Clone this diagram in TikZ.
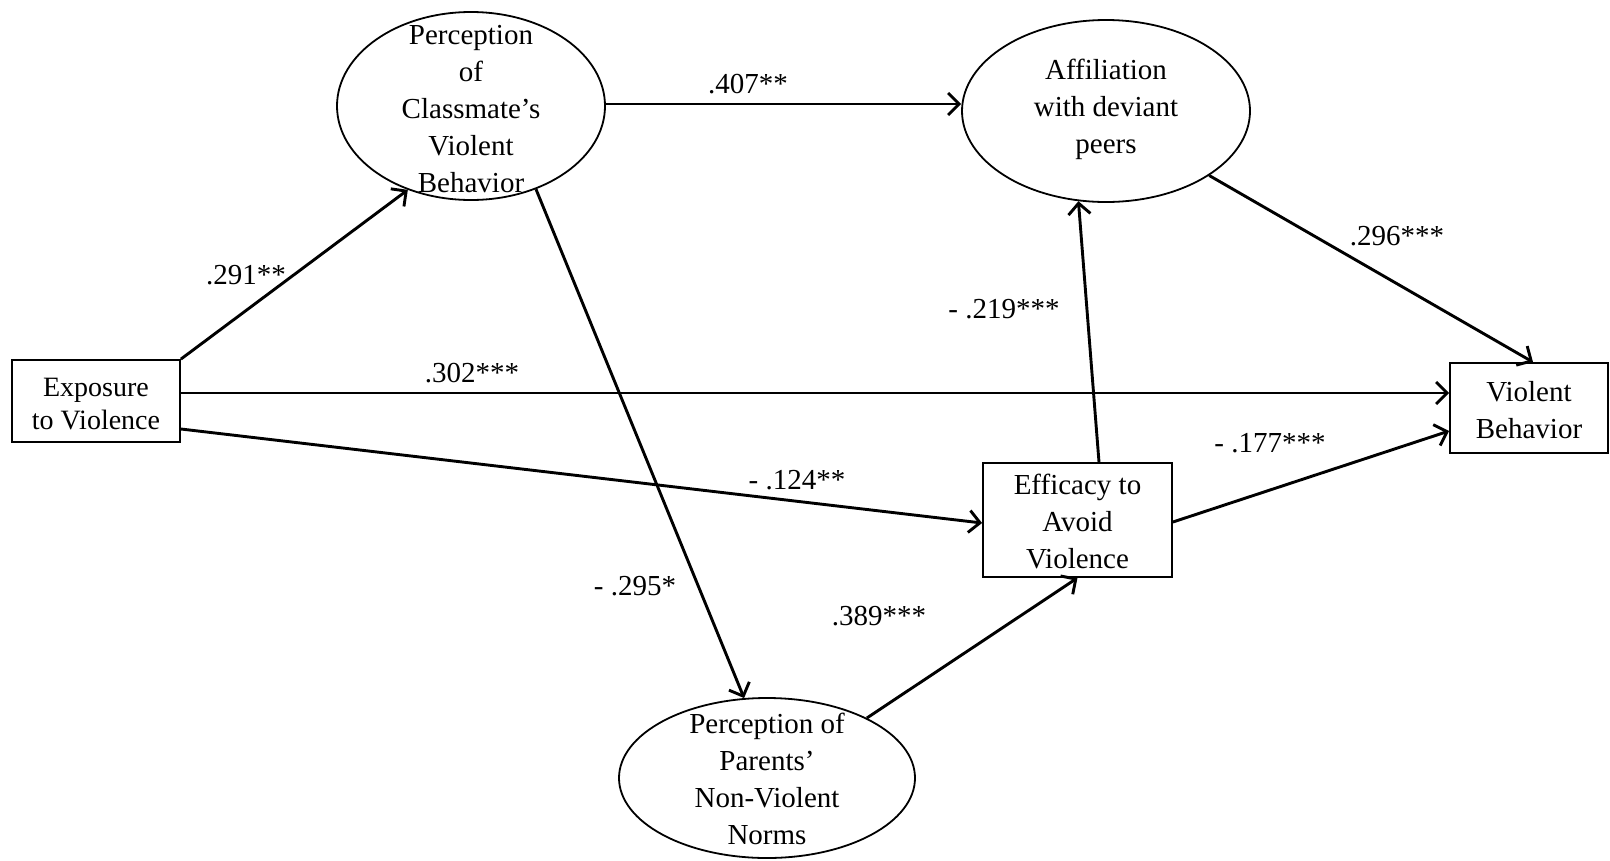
\documentclass[tikz,border=0pt]{standalone}
\usepackage{fontspec}
\setmainfont{Liberation Serif}
\usetikzlibrary{shapes.geometric,arrows.meta}
\begin{document}
\begin{tikzpicture}[x=1pt,y=-1pt,
  conn/.style={line width=2.9pt,-{Straight Barb[length=11pt,width=22pt,line width=2.9pt]}},
  ell/.style={draw,ellipse,line width=1.8pt,inner sep=0pt},
  boxn/.style={draw,rectangle,line width=1.8pt,inner sep=0pt},
  txt/.style={align=center,font=\fontsize{29}{37}\selectfont},
  lab/.style={font=\fontsize{29}{35}\selectfont,inner sep=0pt}]
\useasboundingbox (0,0) rectangle (1610,860);
% nodes
\node[ell,minimum width=268pt,minimum height=188pt] (cls) at (471,106) {};
\node[txt] (clst) at (471,109) {Perception\\of\\Classmate’s\\Violent\\Behavior};
\node[ell,minimum width=288pt,minimum height=182pt] (aff) at (1106,111) {};
\node[txt] (afft) at (1106,109) {Affiliation\\with deviant\\peers};
\node[ell,minimum width=296pt,minimum height=160pt] (par) at (767,778) {};
\node[txt] (part) at (767,779) {Perception of\\Parents’\\Non-Violent\\Norms};
\node[boxn,minimum width=168pt,minimum height=82pt] (exp) at (96,401) {};
\node[align=center,font=\fontsize{28}{33}\selectfont] (expt) at (96,404) {Exposure\\to Violence};
\node[boxn,minimum width=189pt,minimum height=114pt] (eff) at (1077.5,520) {};
\node[txt] (efft) at (1077.5,522) {Efficacy to\\Avoid\\Violence};
\node[boxn,minimum width=158pt,minimum height=90pt] (vb) at (1529,408) {};
\node[txt] (vbt) at (1529,410) {Violent\\Behavior};
% connectors
\draw[conn] (exp.north east) -- (cls.233);
\draw[conn] ([yshift=8pt]exp.east) -- ([yshift=15pt]vb.west);
\draw[conn] ([yshift=-28pt]exp.east) -- ([yshift=-3pt]eff.west);
\draw[conn] ([yshift=2pt]cls.east) -- ([yshift=7pt]aff.west);
\draw[conn] (cls.308.6) -- (par.106.9);
\draw[conn] (aff.328.9) -- ([xshift=4pt]vb.north);
\draw[conn] ([xshift=21.5pt]eff.north) -- (aff.253.8);
\draw[conn] ([yshift=-2pt]eff.east) -- ([yshift=-23pt]vb.west);
\draw[conn] (par.31.8) -- (eff.south);
% labels
\node[lab] (l1) at (748,84) {.407**};
\node[lab] (l2) at (246,275) {.291**};
\node[lab] (l3) at (472,373) {.302***};
\node[lab] (l4) at (797,480) {- .124**};
\node[lab] (l5) at (635,586) {- .295*};
\node[lab] (l6) at (879,616) {.389***};
\node[lab] (l7) at (1004,309) {- .219***};
\node[lab] (l8) at (1397,236) {.296***};
\node[lab] (l9) at (1270,443) {- .177***};
\end{tikzpicture}
\end{document}
